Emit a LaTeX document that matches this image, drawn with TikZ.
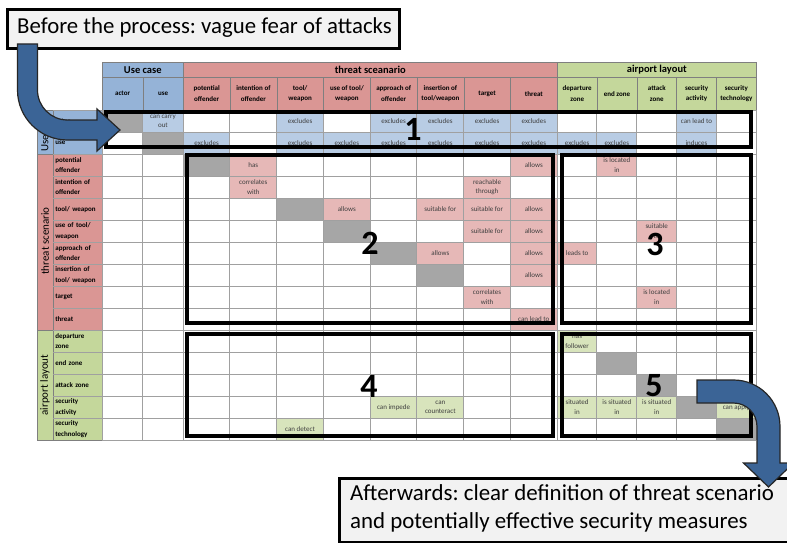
\documentclass[tikz,border=0pt]{standalone}
\usepackage{fontspec}
\setmainfont{Carlito}
\frenchspacing

\definecolor{ucHead}{HTML}{95B3D7}
\definecolor{ucCell}{HTML}{B8CCE4}
\definecolor{tsHead}{HTML}{DA9694}
\definecolor{tsCell}{HTML}{E6B8B7}
\definecolor{alHead}{HTML}{C4D79B}
\definecolor{alCell}{HTML}{D8E4BC}
\definecolor{diagGray}{HTML}{A6A6A6}
\definecolor{arrowBlue}{HTML}{3B6496}
\definecolor{boxGray}{HTML}{F2F2F2}
\definecolor{cellText}{HTML}{3F3F3F}
\definecolor{gridLine}{HTML}{A0A0A0}
\definecolor{headLine}{HTML}{7F7F7F}

\newcommand\mycellfont{\fontsize{7}{9.5}\selectfont}
\newcommand\mycolheadfont{\fontsize{7}{10.5}\selectfont\bfseries}
\newcommand\mygroupfont{\fontsize{10.5}{12}\selectfont\bfseries}
\newcommand\mysidefont{\fontsize{11}{12}\selectfont}
\newcommand\mytitlefont{\fontsize{22.8}{28}\selectfont}
\newcommand\myafterfont{\fontsize{22.9}{28}\selectfont}
\newcommand\mynumfont{\fontsize{34}{34}\selectfont\bfseries}

\begin{document}
\begin{tikzpicture}[x=1pt,y=-1pt,
  declare function={
    colx(\n)=ifthenelse(\n<3,102+40.5*(\n-1),ifthenelse(\n<11,183+46.75*(\n-3),557+39.8*(\n-11)));
    colw(\n)=ifthenelse(\n<3,40.5,ifthenelse(\n<11,46.75,39.8));
    rowy(\n)=110+22*(\n-1);},
  cellbox/.style={inner sep=0pt, minimum height=22pt, align=center,
    font=\mycellfont, text=cellText, anchor=north west},
  colhead/.style={draw=headLine, line width=0.6pt, inner sep=0pt, minimum height=33pt,
    align=center, font=\mycolheadfont, anchor=north west},
  grouphead/.style={draw=headLine, line width=0.6pt, inner sep=0pt, minimum height=15pt,
    font=\mygroupfont, anchor=north west},
  rowhead/.style={draw=headLine, line width=0.6pt, inner xsep=2pt, inner ysep=0pt,
    minimum height=22pt, minimum width=49pt, text width=45pt, align=left,
    font=\mycolheadfont, anchor=north west},
  sidelabel/.style={inner sep=0pt, font=\mysidefont, rotate=90},
  gridline/.style={draw=gridLine, line width=0.8pt},
  blockframe/.style={draw=black, line width=4pt},
  blocknum/.style={inner sep=0pt, font=\mynumfont},
  titlebox/.style={draw=black, line width=3pt, fill=boxGray},
  bigarrow/.style={fill=arrowBlue, draw=black!85, line width=1.2pt, line join=miter}
]
\useasboundingbox (0,0) rectangle (787,543);
\fill[white] (0,0) rectangle (787,543);
\begin{scope}
\clip (0,0) rectangle (787,543);

% ---------- group headers ----------
\node[grouphead, fill=ucHead, minimum width=81pt]  (g-uc) at (102,62) {Use case};
\node[grouphead, fill=tsHead, minimum width=374pt] (g-ts) at (183,62) {threat sceanario};
\node[grouphead, fill=alHead, minimum width=199pt] (g-al) at (557,62) {airport layout};

% ---------- column headers ----------
\foreach \c/\f/\txt in {1/ucHead/actor, 2/ucHead/use,
    3/tsHead/{potential\\offender}, 4/tsHead/{intention of\\offender},
    5/tsHead/{tool/\\weapon}, 6/tsHead/{use of tool/\\weapon},
    7/tsHead/{approach of\\offender}, 8/tsHead/{insertion of\\tool/weapon},
    9/tsHead/target, 10/tsHead/threat,
    11/alHead/{departure\\zone}, 12/alHead/{end zone}, 13/alHead/{attack\\zone},
    14/alHead/{security\\activity}, 15/alHead/{security\\technology}}{
  \pgfmathsetmacro\cxl{colx(\c)}
  \pgfmathsetmacro\cwd{colw(\c)}
  \node[colhead, fill=\f, minimum width=\cwd pt] (h-\c) at (\cxl,77) {\txt};
}

% ---------- side group columns ----------
\fill[ucHead] (37,110) rectangle (53,154);
\fill[tsHead] (37,154) rectangle (53,330);
\fill[alHead] (37,330) rectangle (53,440);
\draw[headLine, line width=0.6pt] (37,110) rectangle (53,154) (37,154) rectangle (53,330) (37,330) rectangle (53,440);
\node[sidelabel] (s-uc) at (45,132) {Use case};
\node[sidelabel] (s-ts) at (45,241) {threat scenario};
\node[sidelabel] (s-al) at (45,385) {airport layout};

% ---------- row headers ----------
\foreach \r/\f/\txt in {1/ucHead/actor, 2/ucHead/use,
    3/tsHead/{potential\\offender}, 4/tsHead/{intention of\\offender},
    5/tsHead/{tool/ weapon}, 6/tsHead/{use of tool/\\weapon},
    7/tsHead/{approach of\\offender}, 8/tsHead/{insertion of\\tool/ weapon},
    9/tsHead/target, 10/tsHead/threat,
    11/alHead/{departure\\zone}, 12/alHead/{end zone}, 13/alHead/{attack zone},
    14/alHead/{security\\activity}, 15/alHead/{security\\technology}}{
  \pgfmathsetmacro\cyt{rowy(\r)}
  \node[rowhead, fill=\f] (r-\r) at (53,\cyt) {\txt};
}

% ---------- matrix cells ----------
\foreach \r/\c/\f/\txt in {
    1/1/diagGray/{}, 1/2/ucCell/{can carry\\out}, 1/5/ucCell/excludes, 1/7/ucCell/excludes,
    1/8/ucCell/excludes, 1/9/ucCell/excludes, 1/10/ucCell/excludes, 1/14/ucCell/{can lead to},
    2/2/diagGray/{}, 2/3/ucCell/excludes, 2/5/ucCell/excludes, 2/6/ucCell/excludes,
    2/7/ucCell/excludes, 2/8/ucCell/excludes, 2/9/ucCell/excludes, 2/10/ucCell/excludes,
    2/11/ucCell/excludes, 2/12/ucCell/excludes, 2/14/ucCell/induces,
    3/3/diagGray/{}, 3/4/tsCell/has, 3/10/tsCell/allows, 3/12/tsCell/{is located\\in},
    4/4/tsCell/{correlates\\with}, 4/9/tsCell/{reachable\\through},
    5/5/diagGray/{}, 5/6/tsCell/allows, 5/8/tsCell/{suitable for}, 5/9/tsCell/{suitable for},
    5/10/tsCell/allows,
    6/6/diagGray/{}, 6/9/tsCell/{suitable for}, 6/10/tsCell/allows, 6/13/tsCell/{suitable\\to},
    7/7/diagGray/{}, 7/8/tsCell/allows, 7/10/tsCell/allows, 7/11/tsCell/{leads to},
    8/8/diagGray/{}, 8/10/tsCell/allows,
    9/9/tsCell/{correlates\\with}, 9/13/tsCell/{is located\\in},
    10/10/tsCell/{can lead to},
    11/11/alCell/{has\\follower},
    12/12/diagGray/{}, 13/13/diagGray/{},
    14/7/alCell/{can impede}, 14/8/alCell/{can\\counteract}, 14/11/alCell/{situated\\in},
    14/12/alCell/{is situated\\in}, 14/13/alCell/{is situated\\in}, 14/14/diagGray/{},
    14/15/alCell/{can apply},
    15/5/alCell/{can detect}, 15/15/diagGray/{}}{
  \pgfmathsetmacro\cxl{colx(\c)}
  \pgfmathsetmacro\cwd{colw(\c)}
  \pgfmathsetmacro\cyt{rowy(\r)}
  \node[cellbox, fill=\f, minimum width=\cwd pt] (c-\r-\c) at (\cxl,\cyt) {\txt};
}

% ---------- grid ----------
\foreach \k in {0,...,15}{
  \draw[gridline] (53,{110+22*\k}) -- (756,{110+22*\k});
}
\foreach \c in {1,...,15}{
  \pgfmathsetmacro\cxl{colx(\c)}
  \draw[gridline] (\cxl,110) -- (\cxl,440);
}
\draw[gridline] (756,110) -- (756,440);
\draw[headLine, line width=0.6pt] (37,440) -- (102,440);

% ---------- block frames and their numbers ----------
\draw[blockframe] (106,112) rectangle (751,147);
\draw[blockframe] (187,155) rectangle (553,323);
\draw[blockframe] (562,155) rectangle (751,323);
\draw[blockframe] (187,334) rectangle (553,436);
\draw[blockframe] (562,334) rectangle (751,436);
\node[blocknum] (n1) at (413,129) {1};
\node[blocknum] (n2) at (370,243) {2};
\node[blocknum] (n3) at (655,244) {3};
\node[blocknum] (n4) at (369,386) {4};
\node[blocknum] (n5) at (654,386) {5};

% ---------- before / after statements ----------
\node[titlebox, anchor=north west, minimum width=392pt, minimum height=39pt] (before) at (6,8) {};
\node[anchor=west, inner sep=0pt, font=\mytitlefont] (before-text) at (17,27.5)
      {Before the process: vague fear of attacks};
\node[titlebox, anchor=north west, minimum width=470pt, minimum height=64pt, line width=2.5pt]
      (after) at (338,477) {};
\node[anchor=north west, inner sep=0pt, align=left, font=\myafterfont] (after-text) at (350,484)
      {Afterwards: clear definition of threat scenario\\and potentially effective security measures};

% ---------- bent block arrows ----------
\filldraw[bigarrow] (17.5,44) -- (17.5,90) arc[start angle=180, end angle=90, radius=50]
  -- (97,140) -- (97,151) -- (120,130) -- (97,109) -- (97,120) -- (67.5,120)
  arc[start angle=90, end angle=180, radius=30] -- (37.5,44) -- cycle;
\filldraw[bigarrow] (697,380) -- (733.5,380) arc[start angle=270, end angle=360, radius=46.5]
  -- (780,463) -- (793.5,463) -- (768.5,487) -- (743.5,463) -- (757,463) -- (757,426.5)
  arc[start angle=0, end angle=-90, radius=23.5] -- (697,403) -- cycle;
\end{scope}
\end{tikzpicture}
\end{document}
